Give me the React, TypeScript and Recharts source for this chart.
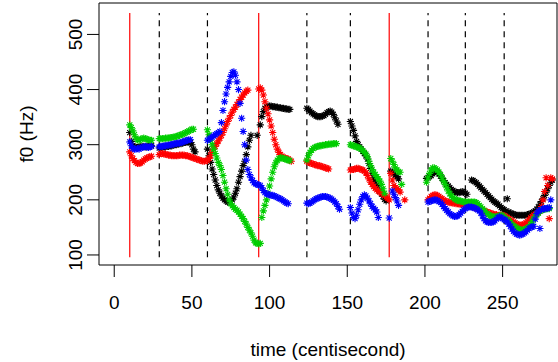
import React from 'react';
import { ScatterChart, Scatter, XAxis, YAxis, ReferenceLine, ReferenceArea } from 'recharts';

type Seg = [number, number[]];

const X_TICKS = [0, 50, 100, 150, 200, 250];
const Y_TICKS = [100, 200, 300, 400, 500];
const RED_MARKS = [10, 93, 177];
const DASH_MARKS = [29, 60, 124, 152, 202, 226, 251];
const MARK_RANGE = [96, 539];

// f0 tracks: [start time (cs), consecutive f0 values (Hz), one per centisecond]
const BLACK: Seg[] = [
  [10, [322, 306, 298, 296, 295, 295, 296, 296, 297, 297, 296, 296, 297, 298, 298]],
  [29, [294, 295, 295, 296, 296, 297, 297, 298, 298, 299, 300, 300, 301, 302, 302, 303, 304, 304, 305, 305, 304, 300, 292, 287]],
  [60, [292, 280, 268, 256, 246, 236, 226, 218, 212, 207, 203, 200, 198, 196, 196, 197, 200, 205, 212, 220, 232, 242, 252, 262, 270, 282, 296, 308, 317]],
  [92, [317]],
  [94, [336, 351, 360, 366, 369, 370, 370, 370, 369, 369, 368, 368, 367, 367, 366, 366, 365, 365, 364, 364]],
  [124, [366, 364, 361, 358, 356, 354, 352, 351, 351, 351, 352, 353, 355, 358, 360, 361, 359, 355, 349, 343, 337]],
  [152, [342, 334, 326, 316, 306, 300, 296, 292, 288, 284, 280, 274, 266, 257, 248, 240, 233, 226, 221, 216, 211, 206, 201, 198]],
  [178, [252, 250, 247, 245, 242, 238]],
  [201, [239, 240, 242, 244, 247, 250, 252, 250, 247, 243, 239, 235, 231, 228, 225, 222, 219, 217, 215, 214, 213, 213, 214, 215, 214, 212, 210]],
  [230, [236, 235, 233, 231, 228, 225, 222, 219, 216, 213, 210, 207, 204, 201, 198, 196, 194, 192, 189, 186, 184, 182, 180, 202, 178, 176, 175, 174, 173, 172, 172, 172, 172, 172, 172, 172, 173, 174, 175, 176, 178, 180, 183, 187, 192, 197, 202, 208, 214, 220, 226, 232, 236]],
];

const RED: Seg[] = [
  [10, [287, 280, 275, 271, 268, 266, 266, 267, 269, 272, 274, 276, 277, 278, 279]],
  [29, [282, 284, 284, 283, 283, 282, 281, 281, 280, 280, 280, 280, 280, 281, 281, 281, 281, 280, 280, 279, 278, 277, 276, 275, 274, 273, 272, 271, 270, 270, 271]],
  [60, [271, 275, 280, 286, 292, 297, 302, 307, 312, 317, 322, 329, 336, 342, 348, 353, 359, 364, 368, 373, 377, 382, 386, 390, 394, 397, 399]],
  [93, [401, 403, 399, 390, 378, 366, 356, 345, 334, 322, 310, 300, 292, 286, 282, 279, 277, 276, 275, 274, 272, 270]],
  [124, [270, 268, 267, 266, 265, 264, 263, 262, 262, 261, 260, 259, 258, 257, 256]],
  [152, [254, 255, 255, 256, 257, 257, 256, 255, 254, 252, 249, 244, 238, 232, 228, 224, 221, 218, 216, 214, 212, 210, 208, 205, 203, 200]],
  [178, [248, 236, 226, 222, 220, 218, 214]],
  [187, [200]],
  [202, [200, 203, 206, 208, 209, 209, 208, 206, 204, 202, 200, 198, 197, 196, 195, 195, 194, 194, 193, 193, 192, 192, 192, 191, 191, 190, 190, 189, 188, 187, 186, 185, 184, 183, 182, 181, 180, 179, 178, 177, 176, 175, 174, 173, 173, 172, 172, 172, 172, 171, 170, 168, 166, 164, 162, 160, 158, 156, 155, 154, 154, 155, 156, 158, 161, 164, 167, 170, 172, 174, 175, 177, 180, 188, 200, 215, 240, 226, 166, 240, 238]],
];

const GREEN: Seg[] = [
  [10, [336, 331, 325, 318, 312, 309, 308, 310, 311, 312, 311, 310, 309, 308, 308]],
  [29, [311, 311, 311, 311, 312, 312, 312, 313, 313, 314, 314, 315, 316, 317, 318, 319, 320, 322, 323, 325, 326, 328, 328]],
  [60, [327, 318, 308, 300, 292, 284, 276, 268, 262, 255, 244, 232, 220, 210, 200, 193, 189, 186, 183, 181, 178, 174, 170, 166, 161, 156, 150, 145, 140, 134, 127, 122, 121, 120, 121]],
  [95, [168, 180, 190, 200, 212, 225, 238, 250, 260, 267, 272, 275, 276, 276, 275, 274, 273, 272, 271]],
  [124, [272, 280, 286, 290, 293, 295, 296, 297, 298, 298, 299, 299, 300, 300, 301, 301, 301, 302, 302, 302]],
  [152, [300, 299, 298, 297, 296, 295, 294, 292, 289, 286, 283, 278, 270, 262, 255, 250, 246, 242, 238, 234, 228, 220, 212]],
  [178, [275, 270, 264, 258, 254, 251, 250, 228]],
  [201, [232, 240, 248, 254, 258, 258, 256, 254, 250, 246, 240, 234, 228, 222, 216, 211, 207, 204, 202, 200, 199, 198, 198, 197, 196, 196, 196, 196, 196, 196, 196, 196, 195, 193, 190, 187, 184, 181, 178, 175, 173, 171, 170, 169, 169, 169, 170, 171, 172, 171, 169, 166, 164, 162, 159, 156, 153, 151, 149, 147, 146, 145, 145, 146, 147, 149, 151, 155, 160, 165, 169, 173, 176, 179, 181, 182, 183, 184, 184, 184]],
];

const BLUE: Seg[] = [
  [10, [305, 298, 293, 292, 292, 293, 292, 294, 295, 296, 297, 296, 295, 296, 297]],
  [29, [296, 297, 297, 298, 298, 299, 299, 300, 300, 301, 302, 302, 303, 303, 304, 305, 306, 307, 308, 309, 309]],
  [60, [308, 310, 312, 314, 316, 318, 320, 322, 324, 340, 362, 378, 392, 404, 414, 424, 431, 432, 426, 414, 400, 375, 348, 324, 300, 272, 255, 246, 240, 235, 231, 229, 228, 227, 226, 222, 217, 213, 211, 210, 209, 208, 208, 207, 206, 204, 203, 202, 200, 198, 196, 194, 193]],
  [124, [194, 193, 194, 196, 198, 200, 202, 203, 204, 205, 206, 206, 206, 205, 204, 203, 201, 199, 196, 193, 188, 183]],
  [152, [186, 176, 168, 166, 172, 182, 192, 200, 206, 209, 207, 203, 198, 193, 188, 185, 182, 178, 168]],
  [177, [167]],
  [179, [216, 210, 204, 198, 190]],
  [202, [196, 197, 198, 199, 200, 200, 199, 197, 195, 192, 188, 184, 181, 178, 175, 173, 171, 170, 170, 171, 173, 176, 179, 182, 184, 186, 187, 187, 187, 186, 185, 184, 182, 180, 176, 171, 166, 162, 160, 159, 159, 159, 160, 162, 165, 168, 169, 168, 166, 164, 163, 160, 156, 152, 147, 143, 140, 138, 137, 136, 137, 138, 140, 142, 145, 148, 150, 151, 152, 165, 175, 180, 148, 182, 184, 184, 184, 185, 186, 200]],
];

const X_DOMAIN: [number, number] = [-9.8, 285];
const Y_DOMAIN: [number, number] = [81.8, 557];
const FONT = "'Liberation Sans', Arial, Helvetica, sans-serif";

function toPoints(segs: Seg[]) {
  const pts: { t: number; f: number }[] = [];
  for (const [start, vals] of segs) vals.forEach((f, i) => pts.push({ t: start + i, f }));
  return pts;
}

const makeStar = (color: string) => (props: any) => {
  const { cx, cy } = props;
  if (cx == null || cy == null) return <g />;
  const r = 3.6;
  const d = r * 0.707;
  return (
    <path
      d={`M${cx - r},${cy}H${cx + r}M${cx},${cy - r}V${cy + r}M${cx - d},${cy - d}L${cx + d},${cy + d}M${cx - d},${cy + d}L${cx + d},${cy - d}`}
      stroke={color}
      strokeWidth={1.1}
      fill="none"
    />
  );
};

const XTick = (props: any) => (
  <text x={props.x} y={props.y + 32} textAnchor="middle" fontFamily={FONT} fontSize={19} fill="#000">
    {props.payload.value}
  </text>
);

const YTick = (props: any) => (
  <text
    x={0}
    y={0}
    transform={`translate(${props.x - 5},${props.y}) rotate(-90)`}
    textAnchor="middle"
    fontFamily={FONT}
    fontSize={19}
    fill="#000"
  >
    {props.payload.value}
  </text>
);

const series: [string, Seg[]][] = [
  ['#000000', BLACK],
  ['#FF0000', RED],
  ['#00CD00', GREEN],
  ['#0000FF', BLUE],
];

export default function App() {
  return (
    <div style={{ position: 'absolute', left: 0, top: 0, width: 558, height: 362, background: '#fff' }}>
      <ScatterChart width={558} height={362} margin={{ top: 3, right: 1, bottom: 0, left: 0 }}>
        <XAxis
          type="number"
          dataKey="t"
          domain={X_DOMAIN}
          allowDataOverflow
          ticks={X_TICKS}
          interval={0}
          tickSize={12}
          tickMargin={0}
          axisLine={false}
          stroke="#000"
          height={97}
          tick={<XTick />}
        />
        <YAxis
          type="number"
          dataKey="f"
          domain={Y_DOMAIN}
          allowDataOverflow
          ticks={Y_TICKS}
          interval={0}
          tickSize={12}
          tickMargin={0}
          axisLine={false}
          stroke="#000"
          width={99}
          tick={<YTick />}
        />
        <ReferenceArea
          x1={X_DOMAIN[0]}
          x2={X_DOMAIN[1]}
          y1={Y_DOMAIN[0]}
          y2={Y_DOMAIN[1]}
          fill="none"
          stroke="#000"
          strokeWidth={1}
          ifOverflow="visible"
        />
        {series.map(([color, segs], i) => (
          <Scatter
            key={i}
            data={toPoints(segs)}
            isAnimationActive={false}
            shape={makeStar(color)}
          />
        ))}
        {DASH_MARKS.map((x) => (
          <ReferenceLine
            key={'d' + x}
            segment={[{ x, y: MARK_RANGE[0] }, { x, y: MARK_RANGE[1] }]}
            stroke="#000"
            strokeWidth={1.2}
            strokeDasharray="6 5"
          />
        ))}
        {RED_MARKS.map((x) => (
          <ReferenceLine
            key={'r' + x}
            segment={[{ x, y: MARK_RANGE[0] }, { x, y: MARK_RANGE[1] }]}
            stroke="#FF0000"
            strokeWidth={1.2}
          />
        ))}
      </ScatterChart>
      <svg width={558} height={362} style={{ position: 'absolute', left: 0, top: 0, pointerEvents: 'none' }}>
        <text x={328} y={356} textAnchor="middle" fontFamily={FONT} fontSize={19} fill="#000">
          time (centisecond)
        </text>
        <text
          x={0}
          y={0}
          transform="translate(33,134) rotate(-90)"
          textAnchor="middle"
          fontFamily={FONT}
          fontSize={19}
          fill="#000"
        >
          f0 (Hz)
        </text>
      </svg>
    </div>
  );
}
